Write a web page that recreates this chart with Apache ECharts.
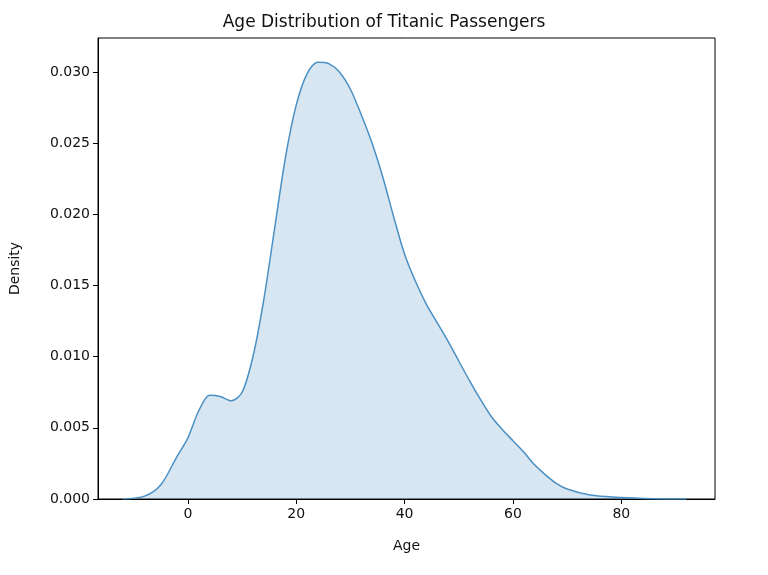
<!DOCTYPE html><html><head><meta charset="utf-8"><script src="https://cdn.jsdelivr.net/npm/echarts@6/dist/echarts.min.js"></script></head><body style="margin:0"><div id="c" style="width:768px;height:575px"></div><script>
const ages=[-12,-8,-5,-2,0,2,4,6,8,10,12,14,16,18,20,22,24,26,28,30,32,34,36,38,40,42,44,46,48,50,52,54,56,58,60,62,64,66,68,70,74,80,86,92];
const dens=[0,0.0002,0.001,0.003,0.0043,0.0062,0.0073,0.0072,0.0069,0.0075,0.0100,0.0140,0.0190,0.0240,0.0277,0.0299,0.0307,0.0306,0.0300,0.0288,0.0270,0.0250,0.0226,0.0198,0.0172,0.0153,0.0137,0.0124,0.0111,0.0097,0.0083,0.0070,0.0058,0.0049,0.0041,0.0033,0.0024,0.0017,0.0011,0.0007,0.0003,0.0001,0.00002,0];
const xTicks=[0,20,40,60,80];
const yTicks=[0,0.005,0.01,0.015,0.02,0.025,0.03];
const c=echarts.init(document.getElementById('c'));
const ax={color:'#111',fontSize:14,fontFamily:'DejaVu Sans'};
c.setOption({animation:false,
title:{text:'Age Distribution of Titanic Passengers',left:'center',top:9,textStyle:{fontSize:17,fontWeight:'normal',color:'#111',fontFamily:'DejaVu Sans'}},
grid:{left:97,right:53,top:38,bottom:76,show:true,borderColor:'#000',borderWidth:1},
xAxis:{type:'value',min:-16.6,max:97.3,name:'Age',nameLocation:'middle',nameGap:40,nameTextStyle:ax,
 axisLine:{onZero:false,lineStyle:{color:'#000'}},splitLine:{show:false},
 axisTick:{show:true,customValues:xTicks,length:5,lineStyle:{color:'#000'}},axisLabel:Object.assign({customValues:xTicks,margin:8},ax)},
yAxis:{type:'value',min:0,max:0.0324,name:'Density',nameLocation:'middle',nameGap:76,nameTextStyle:ax,
 axisLine:{show:true,onZero:false,lineStyle:{color:'#000'}},splitLine:{show:false},
 axisTick:{show:true,customValues:yTicks,length:5,lineStyle:{color:'#000'}},axisLabel:Object.assign({customValues:yTicks,margin:8,formatter:v=>v.toFixed(3)},ax)},
series:[{type:'line',data:ages.map((a,i)=>[a,dens[i]]),smooth:0.3,symbol:'none',lineStyle:{color:'#4a90c4',width:1.5},areaStyle:{color:'rgba(31,119,180,0.26)'}}]});
</script></body></html>
